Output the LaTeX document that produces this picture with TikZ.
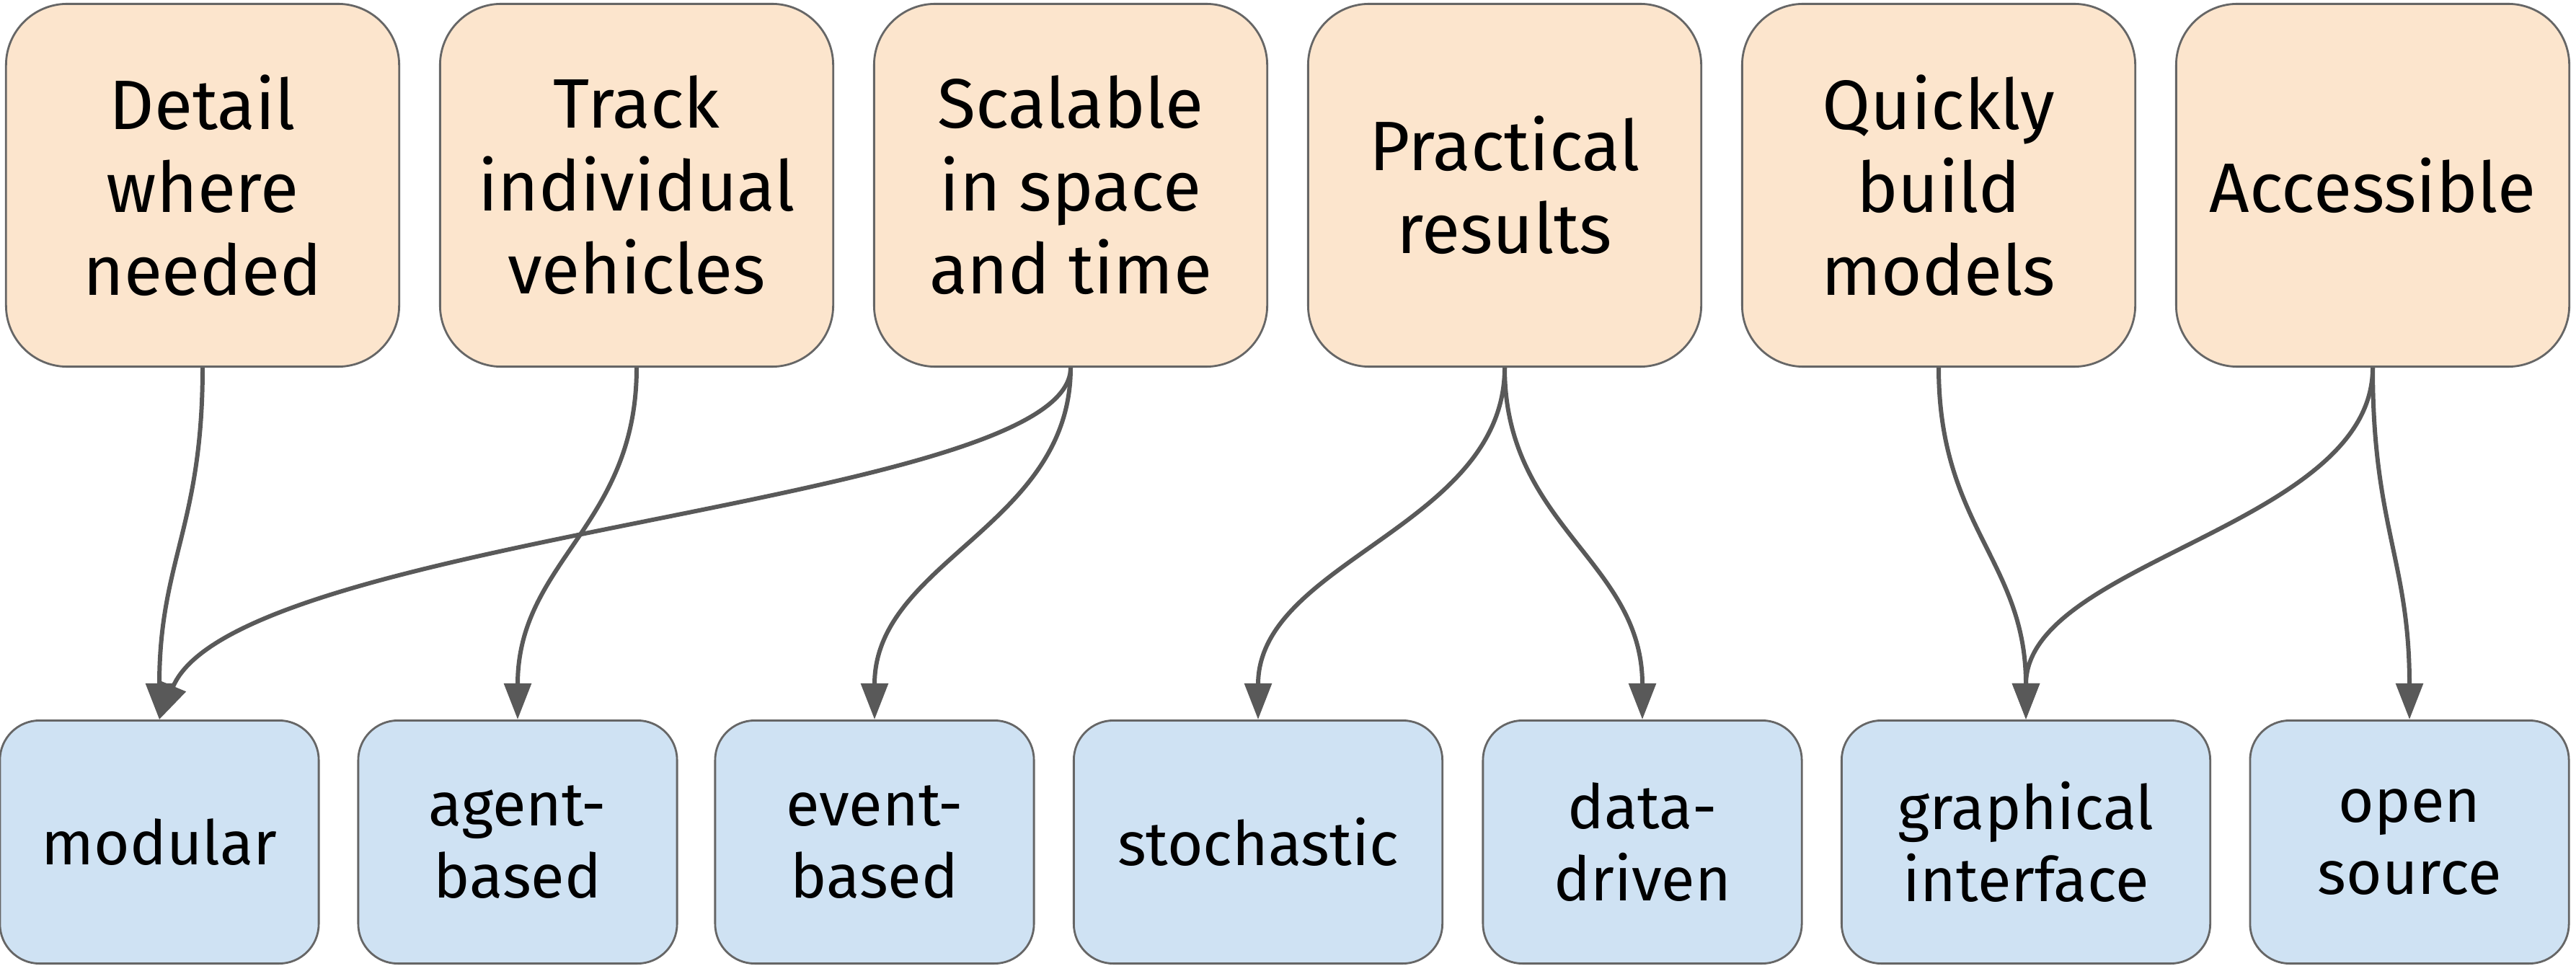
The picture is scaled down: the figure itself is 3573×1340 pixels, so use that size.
\documentclass[tikz,border=0pt]{standalone}
\usepackage{fontspec}
\setmainfont{Fira Sans}
\usetikzlibrary{arrows.meta}
\definecolor{topfill}{HTML}{FCE5CD}
\definecolor{botfill}{HTML}{CFE2F3}
\definecolor{edgegray}{HTML}{595959}
\definecolor{bordergray}{HTML}{666666}
\begin{document}
\begin{tikzpicture}[x=0.01cm,y=-0.01cm,
  topbox/.style={draw=bordergray, line width=0.8pt, fill=topfill, rounded corners=0.85cm,
    minimum width=5.45cm, minimum height=5.03cm, align=center, inner sep=0pt,
    font=\fontsize{27.6}{32.7}\selectfont},
  botbox/.style={draw=bordergray, line width=0.8pt, fill=botfill, rounded corners=0.55cm,
    minimum width=4.42cm, minimum height=3.37cm, align=center, inner sep=0pt,
    font=\fontsize{24.2}{28.5}\selectfont},
  widebox/.style={botbox, minimum width=5.11cm},
  link/.style={draw=edgegray, line width=1.7pt, -{Triangle[length=0.5cm,width=0.37cm]}}
]
\useasboundingbox (0,0) rectangle (3573,1340);

\node[topbox] (t1) at (281,257) {Detail\\where\\needed};
\node[topbox] (t2) at (883,257) {Track\\individual\\vehicles};
\node[topbox] (t3) at (1485,257) {Scalable\\in space\\and time};
\node[topbox] (t4) at (2087,257) {Practical\\results};
\node[topbox] (t5) at (2689,257) {Quickly\\build\\models};
\node[topbox] (t6) at (3291,257) {Accessible};

\node[botbox] (b1) at (221,1168) {modular};
\node[botbox] (b2) at (718,1168) {agent-\\based};
\node[botbox] (b3) at (1213,1168) {event-\\based};
\node[widebox] (b4) at (1745,1168) {stochastic};
\node[botbox] (b5) at (2278,1168) {data-\\driven};
\node[widebox] (b6) at (2810,1168) {graphical\\interface};
\node[botbox] (b7) at (3342,1168) {open\\source};

\draw[link] (t1.south) .. controls +(0,220) and +(0,-220) .. (b1.north);
\draw[link] (t2.south) .. controls +(0,220) and +(0,-220) .. (b2.north);
\draw[link] (t3.south) .. controls +(0,190) and +(108,-258) .. (b1.north);
\draw[link] (t3.south) .. controls +(0,220) and +(0,-220) .. (b3.north);
\draw[link] (t4.south) .. controls +(0,220) and +(0,-220) .. (b4.north);
\draw[link] (t4.south) .. controls +(0,220) and +(0,-220) .. (b5.north);
\draw[link] (t5.south) .. controls +(0,220) and +(0,-220) .. (b6.north);
\draw[link] (t6.south) .. controls +(0,220) and +(0,-220) .. (b6.north);
\draw[link] (t6.south) .. controls +(0,220) and +(0,-220) .. (b7.north);
\end{tikzpicture}
\end{document}
